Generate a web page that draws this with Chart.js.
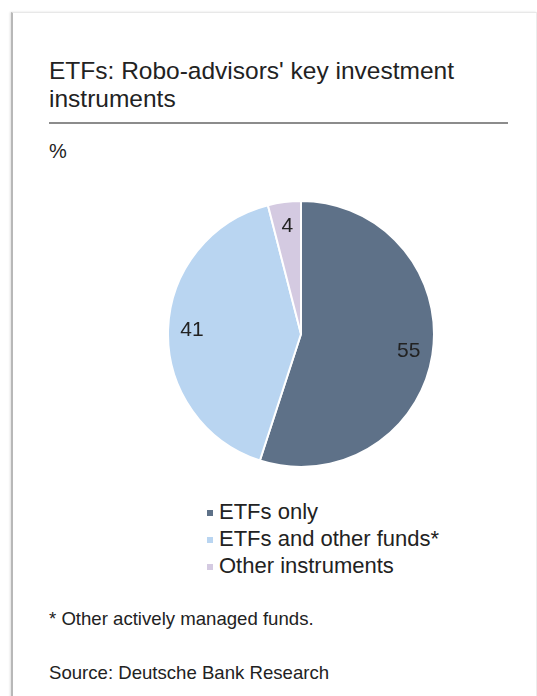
<!DOCTYPE html>
<html>
<head>
<meta charset="utf-8">
<script src="https://cdn.jsdelivr.net/npm/chart.js@4.4.0/dist/chart.umd.min.js"></script>
<style>
  html, body { margin: 0; padding: 0; background: #fff; }
  body { width: 537px; height: 696px; position: relative; overflow: hidden;
         font-family: "Liberation Sans", Arial, sans-serif; color: #222; }
  .card { position: absolute; left: 11px; top: 12px; width: 523px; height: 700px;
          border-left: 2px solid #b8b8b8; border-top: 1px solid #e8e8e8; border-right: 1px solid #ececec;
          box-shadow: -1px 0 2px rgba(0,0,0,0.12); }
  .abs { position: absolute; white-space: nowrap; }
  #title { left: 49px; top: 57px; font-size: 24.5px; line-height: 28px; }
  #rule { left: 49px; top: 122px; width: 459px; height: 2px; background: #8c8c8c; }
  #unit { left: 49px; top: 141px; font-size: 20px; line-height: 20px; }
  #pieBox { left: 166px; top: 199px; width: 270px; height: 270px; }
  #legend { left: 207px; top: 498px; font-size: 22px; line-height: 27px; }
  #legend .row { position: relative; padding-left: 12px; height: 27px; }
  #legend .mark { position: absolute; left: 0; top: 12px; width: 6px; height: 6px; }
  #note { left: 49px; top: 609px; font-size: 18.6px; line-height: 20px; }
  #source { left: 49px; top: 663px; font-size: 18.6px; line-height: 20px; }
</style>
</head>
<body>
<div class="card"></div>
<div class="abs" id="title">ETFs: Robo-advisors' key investment<br>instruments</div>
<div class="abs" id="rule"></div>
<div class="abs" id="unit">%</div>
<div class="abs" id="pieBox"><canvas id="myPie"></canvas></div>
<div class="abs" id="legend"></div>
<div class="abs" id="note">* Other actively managed funds.</div>
<div class="abs" id="source">Source: Deutsche Bank Research</div>

<script>
const categories = ['ETFs only', 'ETFs and other funds*', 'Other instruments'];
const shares = [55, 41, 4];
const sliceColours = ['#5e7188', '#b9d5f1', '#d4cae1'];

// legende faite a la main, une ligne par categorie
const legendBox = document.getElementById('legend');
categories.forEach((nom, i) => {
    const row = document.createElement('div');
    row.className = 'row';
    row.innerHTML = '<span class="mark" style="background:' + sliceColours[i] + '"></span>' + nom;
    legendBox.appendChild(row);
});

// les chiffres dans les parts
const valueLabels = {
    id: 'valueLabels',
    afterDatasetsDraw(chart) {
        const ctx = chart.ctx;
        const meta = chart.getDatasetMeta(0);
        ctx.save();
        ctx.font = '21px "Liberation Sans", Arial, sans-serif';
        ctx.fillStyle = '#222';
        ctx.textAlign = 'center';
        ctx.textBaseline = 'middle';
        meta.data.forEach((arc, i) => {
            const p = arc.getProps(['x', 'y', 'startAngle', 'endAngle', 'outerRadius'], true);
            const mid = (p.startAngle + p.endAngle) / 2;
            const r = p.outerRadius * 0.82;
            ctx.fillText(String(shares[i]), p.x + Math.cos(mid) * r, p.y + Math.sin(mid) * r);
        });
        ctx.restore();
    }
};

const dataPie = {
    labels: categories,
    datasets: [{
        data: shares,
        backgroundColor: sliceColours,
        borderColor: '#ffffff',
        borderWidth: 2
    }]
};

const configPie = {
    type: 'pie',
    data: dataPie,
    options: {
        responsive: true,
        maintainAspectRatio: false,
        animation: false,
        layout: { padding: 1 },
        plugins: {
            legend: { display: false },
            tooltip: { enabled: false }
        }
    },
    plugins: [valueLabels]
};

new Chart(document.getElementById('myPie'), configPie);
</script>
</body>
</html>
